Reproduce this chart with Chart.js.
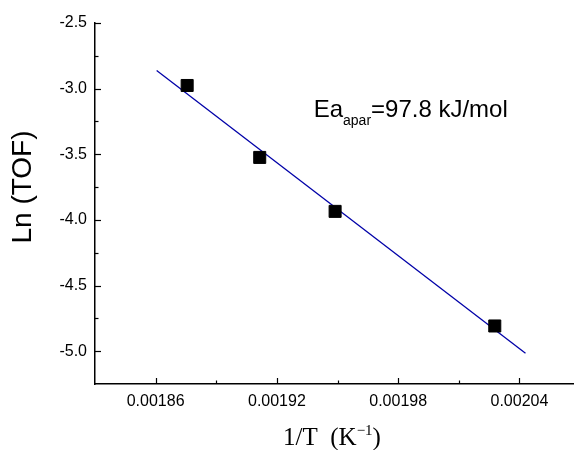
<!DOCTYPE html>
<html>
<head>
<meta charset="utf-8">
<script src="https://cdn.jsdelivr.net/npm/chart.js@4.4.1/dist/chart.umd.min.js"></script>
<style>
  body { margin: 0; background: #fff; }
  canvas { display: block; }
</style>
</head>
<body>
<canvas id="arrhenius" width="574" height="450"></canvas>
<script>
// 1/T (K^-1) and ln(TOF) at the four reaction temperatures
const invT = [0.0018756, 0.0019115, 0.0019488, 0.0020278];
const lnTOF = [-2.976, -3.524, -3.935, -4.808];

// end points of the linear fit
const fitX = [0.0018605, 0.002043];
const fitY = [-2.862, -5.016];

const xTicks = [0.00186, 0.00192, 0.00198, 0.00204];
const xMinor = [0.00189, 0.00195, 0.00201];
const yTicks = [-2.5, -3.0, -3.5, -4.0, -4.5, -5.0];
const yMinor = [-2.75, -3.25, -3.75, -4.25, -4.75];

const sans = '"Liberation Sans", Arial, sans-serif';
const serif = '"Liberation Serif", "Times New Roman", serif';

// inward ticks, axis titles and the Ea label
const extras = {
    id: 'extras',
    afterDraw(chart) {
        const { ctx, chartArea: a, scales: { x, y } } = chart;
        ctx.save();
        ctx.strokeStyle = '#000';
        ctx.lineWidth = 1.2;
        const seg = (x1, y1, x2, y2) => {
            ctx.beginPath();
            ctx.moveTo(x1, y1);
            ctx.lineTo(x2, y2);
            ctx.stroke();
        };
        xTicks.forEach(v => { const p = Math.round(x.getPixelForValue(v)) + 0.5; seg(p, a.bottom, p, a.bottom - 6); });
        xMinor.forEach(v => { const p = Math.round(x.getPixelForValue(v)) + 0.5; seg(p, a.bottom, p, a.bottom - 3.5); });
        yTicks.forEach(v => { const p = Math.round(y.getPixelForValue(v)) + 0.5; seg(a.left, p, a.left + 6, p); });
        yMinor.forEach(v => { const p = Math.round(y.getPixelForValue(v)) + 0.5; seg(a.left, p, a.left + 3.5, p); });

        ctx.fillStyle = '#000';

        // y axis title
        ctx.save();
        ctx.translate(23, 187);
        ctx.rotate(-Math.PI / 2);
        ctx.font = '28px ' + sans;
        ctx.textAlign = 'center';
        ctx.textBaseline = 'middle';
        ctx.fillText('Ln (TOF)', 0, 0);
        ctx.restore();

        // x axis title with superscript
        ctx.textAlign = 'left';
        ctx.textBaseline = 'alphabetic';
        const big = '25px ' + serif, small = '15px ' + serif;
        const p1 = '1/T  (K', p2 = '\u22121', p3 = ')';
        ctx.font = big; const w1 = ctx.measureText(p1).width, w3 = ctx.measureText(p3).width;
        ctx.font = small; const w2 = ctx.measureText(p2).width;
        let tx = 332 - (w1 + w2 + w3) / 2;
        const base = 445;
        ctx.font = big; ctx.fillText(p1, tx, base); tx += w1;
        ctx.font = small; ctx.fillText(p2, tx, base - 10); tx += w2;
        ctx.font = big; ctx.fillText(p3, tx, base);

        // activation energy label
        let ex = x.getPixelForValue(0.0019382);
        const ey = y.getPixelForValue(-3.218);
        ctx.font = '24px ' + sans;
        ctx.fillText('Ea', ex, ey); ex += ctx.measureText('Ea').width;
        ctx.font = '14px ' + sans;
        ctx.fillText('apar', ex, ey + 8); ex += ctx.measureText('apar').width;
        ctx.font = '24px ' + sans;
        ctx.fillText('=97.8 kJ/mol', ex, ey);

        ctx.restore();
    }
};

const ctx = document.getElementById('arrhenius').getContext('2d');
const chart = new Chart(ctx, {
    type: 'scatter',
    data: {
        datasets: [{
            label: 'Ln (TOF)',
            data: invT.map((v, i) => ({ x: v, y: lnTOF[i] })),
            pointStyle: 'rect',
            pointRadius: 8.5,
            backgroundColor: '#000',
            borderColor: '#000',
            borderWidth: 1,
            order: 1
        },
        {
            label: 'fit',
            type: 'line',
            data: fitX.map((v, i) => ({ x: v, y: fitY[i] })),
            borderColor: '#0000a8', // dark blue
            borderWidth: 1.3,
            pointRadius: 0,
            fill: false,
            order: 2
        }]
    },
    options: {
        responsive: false,
        animation: false,
        layout: {
            autoPadding: false,
            padding: { top: 23, right: 0, bottom: 0, left: 0 }
        },
        plugins: {
            legend: { display: false },
            tooltip: { enabled: false }
        },
        scales: {
            x: {
                type: 'linear',
                min: 0.00183,
                max: 0.002067,
                grid: { display: false, drawTicks: false },
                border: { color: '#000', width: 1.5 },
                afterBuildTicks: s => { s.ticks = xTicks.map(v => ({ value: v })); },
                afterFit: s => {
                    s.height = 66;
                    s.paddingLeft = 0;
                    s.paddingRight = 0;
                },
                ticks: {
                    callback: v => v.toFixed(5),
                    font: { family: sans, size: 16 },
                    color: '#000',
                    padding: 8,
                    maxRotation: 0,
                    autoSkip: false
                }
            },
            y: {
                min: -5.25,
                max: -2.5,
                grid: { display: false, drawTicks: false },
                border: { color: '#000', width: 1.5 },
                afterBuildTicks: s => { s.ticks = yTicks.map(v => ({ value: v })); },
                afterFit: s => {
                    s.width = 95;
                    s.paddingTop = 0;
                    s.paddingBottom = 0;
                },
                ticks: {
                    callback: v => v.toFixed(1),
                    font: { family: sans, size: 16 },
                    color: '#000',
                    padding: 8
                }
            }
        }
    },
    plugins: [extras]
});
</script>
</body>
</html>
